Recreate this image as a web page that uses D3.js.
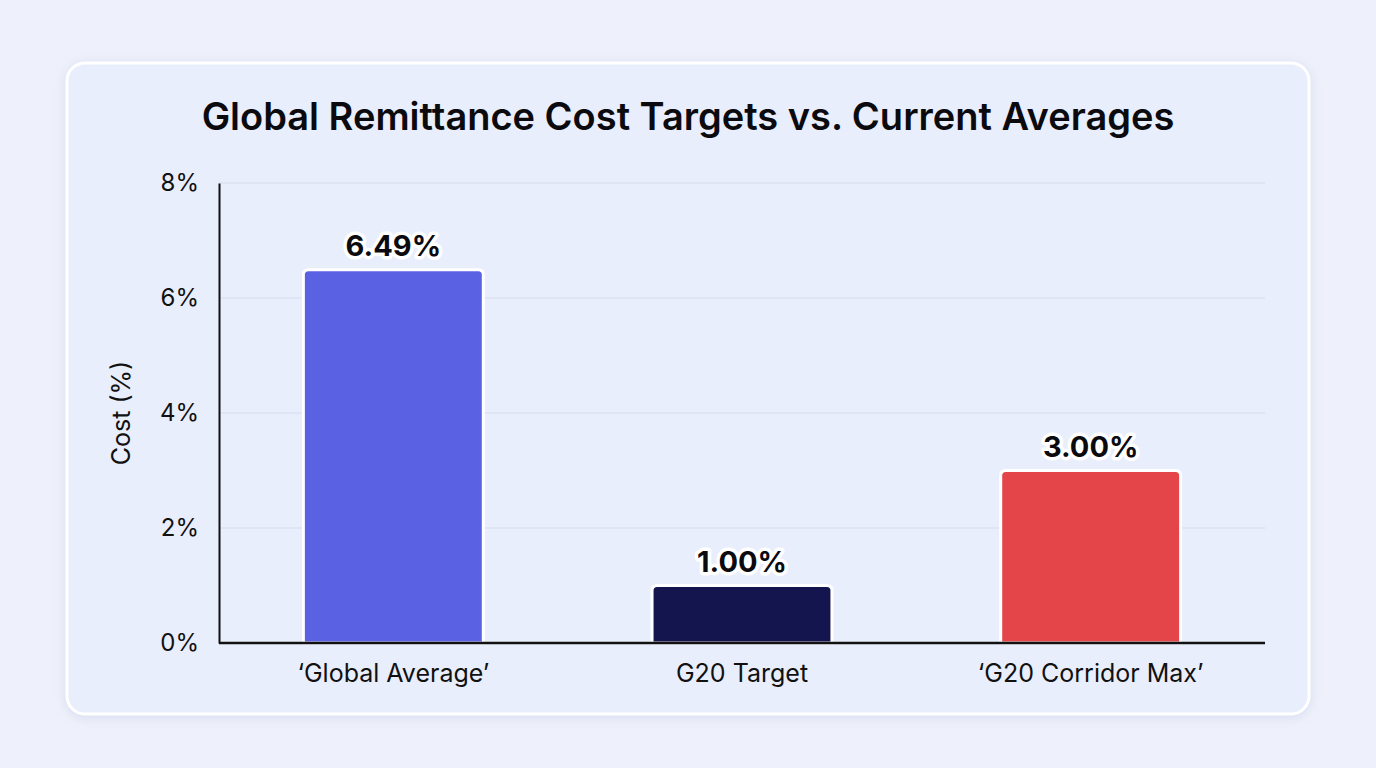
<!DOCTYPE html>
<html>
<head>
<meta charset="utf-8">
<script src="https://cdn.jsdelivr.net/npm/d3@7"></script>
<style>
  html, body { margin: 0; padding: 0; background: #eef1fb; }
  svg { display: block; font-family: Inter, "Noto Sans", sans-serif; }
</style>
</head>
<body>
<svg id="chart"></svg>
<script>
// chart data
const categories = ["\u2018Global Average\u2019", "G20 Target", "\u2018G20 Corridor Max\u2019"];
const values = [6.49, 1.00, 3.00];
const barColors = ["#5a61e3", "#14154f", "#e44548"];
const yTicks = [0, 2, 4, 6, 8];

const width = 1376, height = 768;
const margin = {left: 219, right: 111, top: 183, bottom: 125};

const svg = d3.select("#chart")
    .attr("width", width)
    .attr("height", height);

// card with soft shadow
const defs = svg.append("defs");
const shadow = defs.append("filter").attr("id", "shadow")
    .attr("x", "-5%").attr("y", "-5%").attr("width", "110%").attr("height", "110%");
shadow.append("feDropShadow")
    .attr("dx", 0).attr("dy", 2).attr("stdDeviation", 6)
    .attr("flood-color", "#aab3d6").attr("flood-opacity", 0.35);

svg.append("rect")
    .attr("x", 67).attr("y", 63)
    .attr("width", 1242).attr("height", 651)
    .attr("rx", 18)
    .attr("fill", "#e9eefc")
    .attr("stroke", "#ffffff")
    .attr("stroke-width", 3)
    .attr("filter", "url(#shadow)");

svg.append("text")
    .attr("x", 688).attr("y", 130)
    .attr("text-anchor", "middle")
    .attr("font-size", 38)
    .attr("font-weight", 600)
    .attr("fill", "#0b0b0f")
    .text("Global Remittance Cost Targets vs. Current Averages");

const x = d3.scaleBand()
    .domain(categories)
    .range([margin.left, width - margin.right])
    .paddingInner(0.484)
    .paddingOuter(0.242);

const y = d3.scaleLinear()
    .domain([0, 8])
    .range([height - margin.bottom, margin.top]);

// gridlines
svg.append("g")
  .selectAll("line")
  .data(yTicks.filter(d => d > 0))
  .enter().append("line")
    .attr("x1", margin.left).attr("x2", width - margin.right)
    .attr("y1", d => y(d)).attr("y2", d => y(d))
    .attr("stroke", "#d6dbeb")
    .attr("stroke-width", 1);

// y axis
const yAxis = svg.append("g")
    .attr("transform", `translate(${margin.left},0)`)
    .call(d3.axisLeft(y).tickValues(yTicks).tickFormat(d => d + "%").tickSize(0).tickPadding(20));
yAxis.select(".domain").attr("stroke", "#111").attr("stroke-width", 2);
yAxis.selectAll("text").attr("font-size", 24).attr("fill", "#111").attr("font-family", "Inter, sans-serif");

svg.append("text")
    .attr("transform", `translate(130,${y(4)}) rotate(-90)`)
    .attr("text-anchor", "middle")
    .attr("font-size", 25)
    .attr("fill", "#111")
    .text("Cost (%)");

// bars with rounded top corners
function barPath(x0, y0, w, h, r) {
  return `M${x0},${y0 + h}V${y0 + r}Q${x0},${y0} ${x0 + r},${y0}H${x0 + w - r}Q${x0 + w},${y0} ${x0 + w},${y0 + r}V${y0 + h}Z`;
}

svg.append("g")
  .selectAll("path")
  .data(categories)
  .enter().append("path")
    .attr("d", (d, i) => barPath(x(d), y(values[i]), x.bandwidth(), y(0) - y(values[i]), 5))
    .attr("fill", (d, i) => barColors[i])
    .attr("stroke", "#ffffff")
    .attr("stroke-width", 3);

// value labels with white halo
svg.append("g")
  .selectAll("text")
  .data(categories)
  .enter().append("text")
    .attr("x", d => x(d) + x.bandwidth() / 2)
    .attr("y", (d, i) => y(values[i]) - 14)
    .attr("text-anchor", "middle")
    .attr("font-size", 29)
    .attr("font-weight", 700)
    .attr("fill", "#0b0b0f")
    .attr("stroke", "#ffffff")
    .attr("stroke-width", 7)
    .attr("stroke-linejoin", "round")
    .attr("paint-order", "stroke")
    .text((d, i) => values[i].toFixed(2) + "%");

// x axis
const xAxis = svg.append("g")
    .attr("transform", `translate(0,${y(0)})`)
    .call(d3.axisBottom(x).tickSize(0).tickPadding(21));
xAxis.select(".domain").attr("stroke", "#111").attr("stroke-width", 2.5)
    .attr("d", `M${margin.left},0H${width - margin.right}`);
xAxis.selectAll("text").attr("font-size", 25).attr("fill", "#111").attr("font-family", "Inter, sans-serif");
</script>
</body>
</html>
